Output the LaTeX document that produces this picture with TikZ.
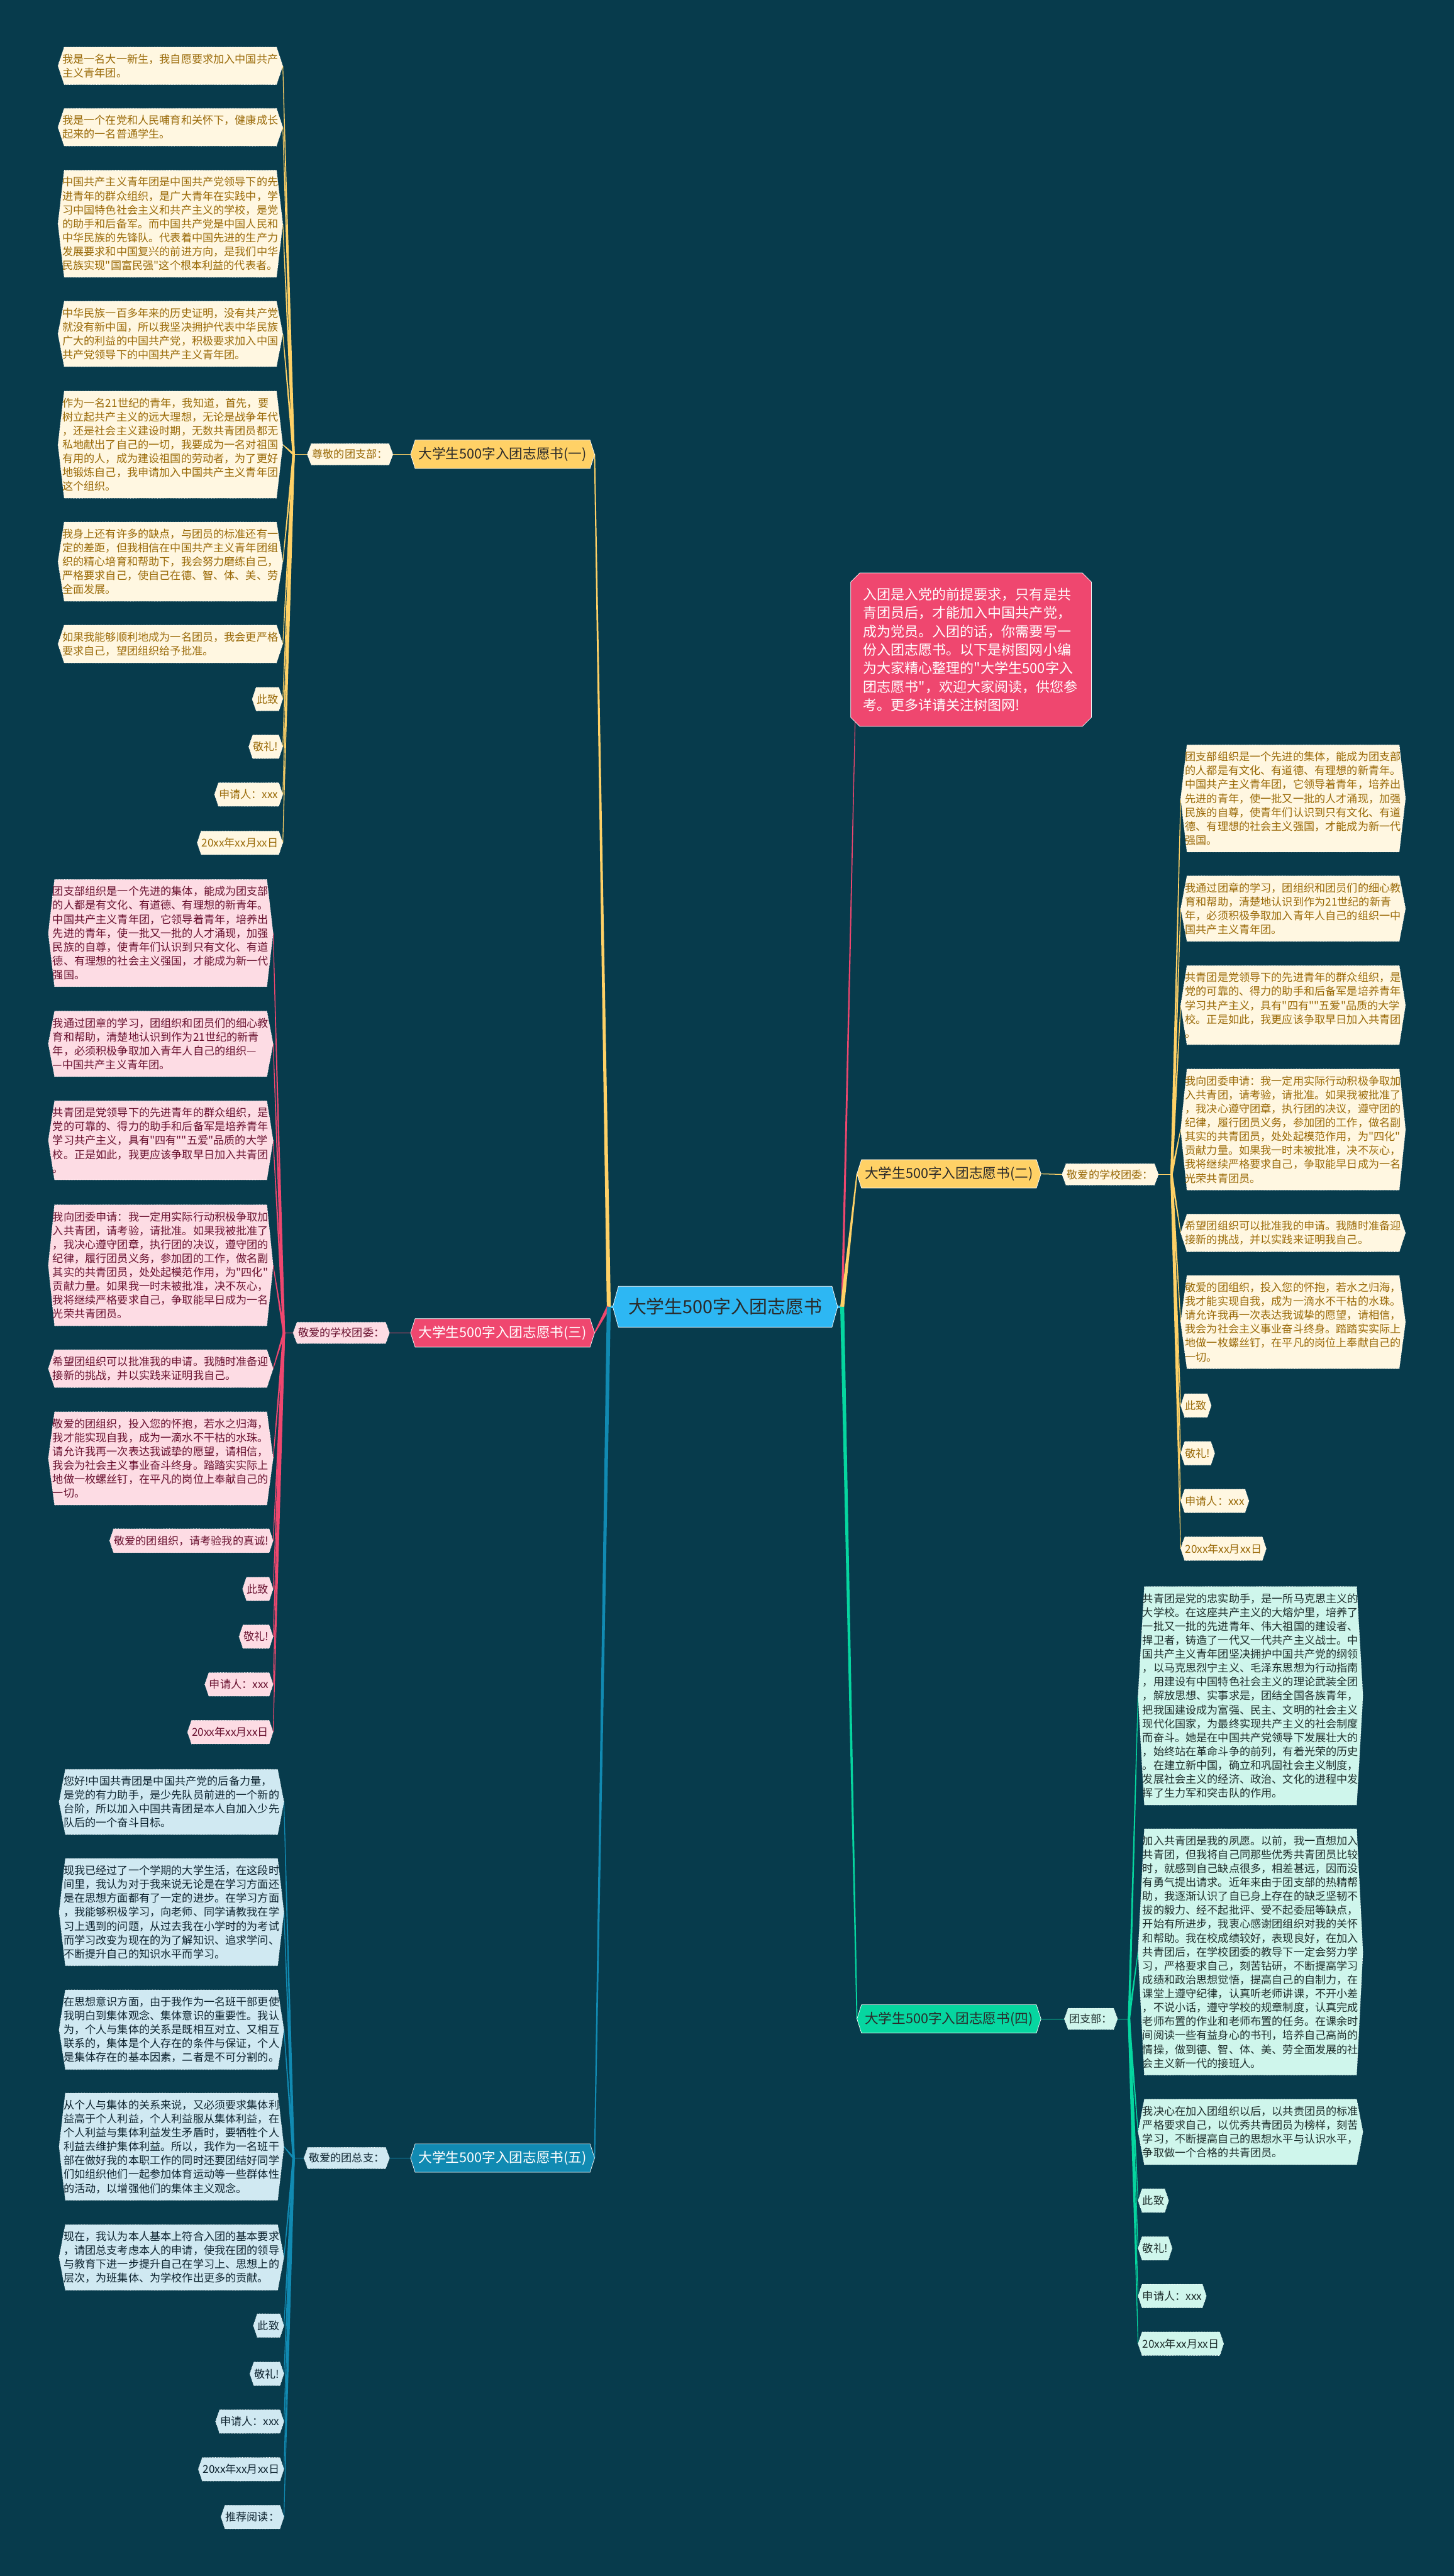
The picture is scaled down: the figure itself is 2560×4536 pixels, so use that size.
\documentclass[tikz,border=0pt]{standalone}
\usepackage{fontspec}
\setmainfont{Noto Sans CJK SC}[Ligatures=TeXOff]
\usetikzlibrary{calc,shapes.misc}
\makeatletter
\newdimen\hexdepth
\hexdepth=5pt
\pgfdeclareshape{hexbox}{
  \inheritsavedanchors[from=rectangle]
  \inheritanchorborder[from=rectangle]
  \inheritanchor[from=rectangle]{center}
  \inheritanchor[from=rectangle]{north}
  \inheritanchor[from=rectangle]{south}
  \inheritanchor[from=rectangle]{east}
  \inheritanchor[from=rectangle]{west}
  \inheritanchor[from=rectangle]{north east}
  \inheritanchor[from=rectangle]{north west}
  \inheritanchor[from=rectangle]{south east}
  \inheritanchor[from=rectangle]{south west}
  \inheritanchor[from=rectangle]{base}
  \inheritanchor[from=rectangle]{mid}
  \backgroundpath{%
    \southwest \pgf@xa=\pgf@x \pgf@ya=\pgf@y
    \northeast \pgf@xb=\pgf@x \pgf@yb=\pgf@y
    \pgf@yc=0.5\pgf@ya \advance\pgf@yc by 0.5\pgf@yb
    \pgf@xc=\pgf@xa \advance\pgf@xc by \hexdepth
    \pgfpathmoveto{\pgfqpoint{\pgf@xa}{\pgf@yc}}%
    \pgfpathlineto{\pgfqpoint{\pgf@xc}{\pgf@yb}}%
    \pgf@xc=\pgf@xb \advance\pgf@xc by -\hexdepth
    \pgfpathlineto{\pgfqpoint{\pgf@xc}{\pgf@yb}}%
    \pgfpathlineto{\pgfqpoint{\pgf@xb}{\pgf@yc}}%
    \pgfpathlineto{\pgfqpoint{\pgf@xc}{\pgf@ya}}%
    \pgf@xc=\pgf@xa \advance\pgf@xc by \hexdepth
    \pgfpathlineto{\pgfqpoint{\pgf@xc}{\pgf@ya}}%
    \pgfpathclose
  }
}
\makeatother
\pgfdeclarelayer{bglayer}
\pgfdeclarelayer{lines}
\pgfsetlayers{bglayer,lines,main}
\definecolor{bgc}{HTML}{073B4C}
\definecolor{cyel}{HTML}{FFD166}
\definecolor{cpink}{HTML}{EF476F}
\definecolor{cgreen}{HTML}{06D6A0}
\definecolor{cblue}{HTML}{118AB2}
\definecolor{ccenter}{HTML}{2DB7F3}
\definecolor{ycream}{HTML}{FFF7E1}
\definecolor{ytext}{HTML}{9A6A08}
\definecolor{pfill}{HTML}{FDDCE4}
\definecolor{ptext}{HTML}{6A1230}
\definecolor{gfill}{HTML}{CFF6EC}
\definecolor{gtext}{HTML}{1E2E2C}
\definecolor{bfill}{HTML}{D0E9F2}
\definecolor{btext}{HTML}{0E2430}
\definecolor{darktext}{HTML}{2A2A2A}
\newcommand{\taper}[5]{\fill[#1] ($(#2)!#4!90:(#3)$) -- ($(#3)!#5!-90:(#2)$) -- ($(#3)!#5!90:(#2)$) -- ($(#2)!#4!-90:(#3)$) -- cycle;}
\tikzset{
  hex depth/.code={\global\hexdepth=#1\relax},
  leafbase/.style={shape=hexbox, outer sep=0pt, inner xsep=4pt, inner ysep=6pt,
    font=\fontsize{9.5}{12.25}\selectfont, align=left, draw=white, densely dotted,
    line width=0.4pt, hex depth=5.5pt},
  short/.style={hex depth=3.5pt},
  long/.style={text width=190pt},
  yleaf/.style={leafbase, fill=ycream, text=ytext},
  pleaf/.style={leafbase, fill=pfill, text=ptext},
  gleaf/.style={leafbase, fill=gfill, text=gtext},
  bleaf/.style={leafbase, fill=bfill, text=btext},
  lab/.style={hex depth=3.5pt, inner xsep=4.5pt, inner ysep=5pt},
  branch/.style={shape=hexbox, outer sep=0pt, hex depth=4pt, minimum width=162pt,
    minimum height=25pt, font=\fontsize{12}{14}\selectfont, draw=white, line width=0.4pt},
}
\begin{document}
\begin{tikzpicture}[x=0.5pt,y=-0.5pt]
\useasboundingbox (0,0) rectangle (2560,4536);
\begin{pgfonlayer}{bglayer}
\fill[bgc] (0,0) rectangle (2560,4536);
\end{pgfonlayer}

% center
\node[shape=hexbox, outer sep=0pt, hex depth=5pt, minimum width=198pt, minimum height=36pt,
  fill=ccenter, draw=white, line width=0.4pt, text=darktext, font=\fontsize{16}{18}\selectfont]
  (root) at (1277,2301) {大学生500字入团志愿书};

% branches
\node[branch, fill=cyel, text=darktext] (br1) at (885,800) {大学生500字入团志愿书(一)};
\node[branch, fill=cpink, text=white] (br3) at (885,2347) {大学生500字入团志愿书(三)};
\node[branch, fill=cblue, text=white] (br5) at (885,3800) {大学生500字入团志愿书(五)};
\node[branch, fill=cyel, text=darktext] (br2) at (1671,2067) {大学生500字入团志愿书(二)};
\node[branch, fill=cgreen, text=darktext] (br4) at (1671,3555) {大学生500字入团志愿书(四)};

% intro
\node[chamfered rectangle, chamfered rectangle xsep=4pt, chamfered rectangle ysep=4pt,
  fill=cpink, draw=white, line width=0.4pt, text=white, text width=190pt, align=left,
  inner xsep=7pt, inner ysep=9pt, font=\fontsize{12.2}{16.3}\selectfont]
  (intro) at (1710,1144) {入团是入党的前提要求，只有是共\\青团员后，才能加入中国共产党，\\成为党员。入团的话，你需要写一\\份入团志愿书。以下是树图网小编\\为大家精心整理的"大学生500字入\\团志愿书"，欢迎大家阅读，供您参\\考。更多详请关注树图网!};

% labels
\node[yleaf, lab, anchor=east] (la) at (692,800) {尊敬的团支部：};
\node[pleaf, lab, anchor=east] (lc) at (686,2347) {敬爱的学校团委：};
\node[bleaf, lab, anchor=east] (le) at (686,3800) {敬爱的团总支：};
\node[yleaf, lab, anchor=west] (lb) at (1870,2068) {敬爱的学校团委：};
\node[gleaf, lab, anchor=west] (ld) at (1874,3555) {团支部：};

\coordinate (Ja) at (517,800);
\coordinate (Jc) at (500,2347);
\coordinate (Je) at (517,3800);
\coordinate (Jb) at (2063,2068);
\coordinate (Jd) at (1988,3555);
\coordinate (CL) at (1072,2301);
\coordinate (CR) at (1483,2301);

% branch 一 leaves
\node[yleaf, long, anchor=east] (a1) at (498,116) {我是一名大一新生，我自愿要求加入中国共产\\主义青年团。};
\node[yleaf, long, anchor=east] (a2) at (498,224) {我是一个在党和人民哺育和关怀下，健康成长\\起来的一名普通学生。};
\node[yleaf, long, anchor=east] (a3) at (498,394) {中国共产主义青年团是中国共产党领导下的先\\进青年的群众组织，是广大青年在实践中，学\\习中国特色社会主义和共产主义的学校，是党\\的助手和后备军。而中国共产党是中国人民和\\中华民族的先锋队。代表着中国先进的生产力\\发展要求和中国复兴的前进方向，是我们中华\\民族实现"国富民强"这个根本利益的代表者。};
\node[yleaf, long, anchor=east] (a4) at (498,588) {中华民族一百多年来的历史证明，没有共产党\\就没有新中国，所以我坚决拥护代表中华民族\\广大的利益的中国共产党，积极要求加入中国\\共产党领导下的中国共产主义青年团。};
\node[yleaf, long, anchor=east] (a5) at (498,783) {作为一名21世纪的青年，我知道，首先，要\\树立起共产主义的远大理想，无论是战争年代\\，还是社会主义建设时期，无数共青团员都无\\私地献出了自己的一切，我要成为一名对祖国\\有用的人，成为建设祖国的劳动者，为了更好\\地锻炼自己，我申请加入中国共产主义青年团\\这个组织。};
\node[yleaf, long, anchor=east] (a6) at (498,989) {我身上还有许多的缺点，与团员的标准还有一\\定的差距，但我相信在中国共产主义青年团组\\织的精心培育和帮助下，我会努力磨练自己，\\严格要求自己，使自己在德、智、体、美、劳\\全面发展。};
\node[yleaf, long, anchor=east] (a7) at (498,1134) {如果我能够顺利地成为一名团员，我会更严格\\要求自己，望团组织给予批准。};
\node[yleaf, short, anchor=east] (a8) at (498,1231) {此致};
\node[yleaf, short, anchor=east] (a9) at (498,1315) {敬礼!};
\node[yleaf, short, anchor=east] (a10) at (498,1399) {申请人：xxx};
\node[yleaf, short, anchor=east] (a11) at (498,1484) {20xx年xx月xx日};

% branch 三 leaves
\node[pleaf, long, anchor=east] (c1) at (481,1643) {团支部组织是一个先进的集体，能成为团支部\\的人都是有文化、有道德、有理想的新青年。\\中国共产主义青年团，它领导着青年，培养出\\先进的青年，使一批又一批的人才涌现，加强\\民族的自尊，使青年们认识到只有文化、有道\\德、有理想的社会主义强国，才能成为新一代\\强国。};
\node[pleaf, long, anchor=east] (c2) at (481,1838) {我通过团章的学习，团组织和团员们的细心教\\育和帮助，清楚地认识到作为21世纪的新青\\年，必须积极争取加入青年人自己的组织—\\—中国共产主义青年团。};
\node[pleaf, long, anchor=east] (c3) at (481,2008) {共青团是党领导下的先进青年的群众组织，是\\党的可靠的、得力的助手和后备军是培养青年\\学习共产主义，具有"四有""五爱"品质的大学\\校。正是如此，我更应该争取早日加入共青团\\。};
\node[pleaf, long, anchor=east] (c4) at (481,2228) {我向团委申请：我一定用实际行动积极争取加\\入共青团，请考验，请批准。如果我被批准了\\，我决心遵守团章，执行团的决议，遵守团的\\纪律，履行团员义务，参加团的工作，做名副\\其实的共青团员，处处起模范作用，为"四化"\\贡献力量。如果我一时未被批准，决不灰心，\\我将继续严格要求自己，争取能早日成为一名\\光荣共青团员。};
\node[pleaf, long, anchor=east] (c5) at (481,2410) {希望团组织可以批准我的申请。我随时准备迎\\接新的挑战，并以实践来证明我自己。};
\node[pleaf, long, anchor=east] (c6) at (481,2568) {敬爱的团组织，投入您的怀抱，若水之归海，\\我才能实现自我，成为一滴水不干枯的水珠。\\请允许我再一次表达我诚挚的愿望，请相信，\\我会为社会主义事业奋斗终身。踏踏实实际上\\地做一枚螺丝钉，在平凡的岗位上奉献自己的\\一切。};
\node[pleaf, short, anchor=east] (c7) at (481,2713) {敬爱的团组织，请考验我的真诚!};
\node[pleaf, short, anchor=east] (c8) at (481,2798) {此致};
\node[pleaf, short, anchor=east] (c9) at (481,2882) {敬礼!};
\node[pleaf, short, anchor=east] (c10) at (481,2966) {申请人：xxx};
\node[pleaf, short, anchor=east] (c11) at (481,3050) {20xx年xx月xx日};

% branch 五 leaves
\node[bleaf, long, anchor=east] (e1) at (500,3173) {您好!中国共青团是中国共产党的后备力量，\\是党的有力助手，是少先队员前进的一个新的\\台阶，所以加入中国共青团是本人自加入少先\\队后的一个奋斗目标。};
\node[bleaf, long, anchor=east] (e2) at (500,3367) {现我已经过了一个学期的大学生活，在这段时\\间里，我认为对于我来说无论是在学习方面还\\是在思想方面都有了一定的进步。在学习方面\\，我能够积极学习，向老师、同学请教我在学\\习上遇到的问题，从过去我在小学时的为考试\\而学习改变为现在的为了解知识、追求学问、\\不断提升自己的知识水平而学习。};
\node[bleaf, long, anchor=east] (e3) at (500,3574) {在思想意识方面，由于我作为一名班干部更使\\我明白到集体观念、集体意识的重要性。我认\\为，个人与集体的关系是既相互对立、又相互\\联系的，集体是个人存在的条件与保证，个人\\是集体存在的基本因素，二者是不可分割的。};
\node[bleaf, long, anchor=east] (e4) at (500,3780) {从个人与集体的关系来说，又必须要求集体利\\益高于个人利益，个人利益服从集体利益，在\\个人利益与集体利益发生矛盾时，要牺牲个人\\利益去维护集体利益。所以，我作为一名班干\\部在做好我的本职工作的同时还要团结好同学\\们如组织他们一起参加体育运动等一些群体性\\的活动，以增强他们的集体主义观念。};
\node[bleaf, long, anchor=east] (e5) at (500,3975) {现在，我认为本人基本上符合入团的基本要求\\，请团总支考虑本人的申请，使我在团的领导\\与教育下进一步提升自己在学习上、思想上的\\层次，为班集体、为学校作出更多的贡献。};
\node[bleaf, short, anchor=east] (e6) at (500,4095) {此致};
\node[bleaf, short, anchor=east] (e7) at (500,4180) {敬礼!};
\node[bleaf, short, anchor=east] (e8) at (500,4264) {申请人：xxx};
\node[bleaf, short, anchor=east] (e9) at (500,4348) {20xx年xx月xx日};
\node[bleaf, short, anchor=east] (e10) at (500,4432) {推荐阅读：};

% branch 二 leaves
\node[yleaf, long, anchor=west] (b1) at (2079,1406) {团支部组织是一个先进的集体，能成为团支部\\的人都是有文化、有道德、有理想的新青年。\\中国共产主义青年团，它领导着青年，培养出\\先进的青年，使一批又一批的人才涌现，加强\\民族的自尊，使青年们认识到只有文化、有道\\德、有理想的社会主义强国，才能成为新一代\\强国。};
\node[yleaf, long, anchor=west] (b2) at (2079,1600) {我通过团章的学习，团组织和团员们的细心教\\育和帮助，清楚地认识到作为21世纪的新青\\年，必须积极争取加入青年人自己的组织一中\\国共产主义青年团。};
\node[yleaf, long, anchor=west] (b3) at (2079,1770) {共青团是党领导下的先进青年的群众组织，是\\党的可靠的、得力的助手和后备军是培养青年\\学习共产主义，具有"四有""五爱"品质的大学\\校。正是如此，我更应该争取早日加入共青团\\。};
\node[yleaf, long, anchor=west] (b4) at (2079,1989) {我向团委申请：我一定用实际行动积极争取加\\入共青团，请考验，请批准。如果我被批准了\\，我决心遵守团章，执行团的决议，遵守团的\\纪律，履行团员义务，参加团的工作，做名副\\其实的共青团员，处处起模范作用，为"四化"\\贡献力量。如果我一时未被批准，决不灰心，\\我将继续严格要求自己，争取能早日成为一名\\光荣共青团员。};
\node[yleaf, long, anchor=west] (b5) at (2079,2171) {希望团组织可以批准我的申请。我随时准备迎\\接新的挑战，并以实践来证明我自己。};
\node[yleaf, long, anchor=west] (b6) at (2079,2328) {敬爱的团组织，投入您的怀抱，若水之归海，\\我才能实现自我，成为一滴水不干枯的水珠。\\请允许我再一次表达我诚挚的愿望，请相信，\\我会为社会主义事业奋斗终身。踏踏实实际上\\地做一枚螺丝钉，在平凡的岗位上奉献自己的\\一切。};
\node[yleaf, short, anchor=west] (b7) at (2079,2475) {此致};
\node[yleaf, short, anchor=west] (b8) at (2079,2559) {敬礼!};
\node[yleaf, short, anchor=west] (b9) at (2079,2643) {申请人：xxx};
\node[yleaf, short, anchor=west] (b10) at (2079,2727) {20xx年xx月xx日};

% branch 四 leaves
\node[gleaf, long, anchor=west] (d1) at (2004,2986) {共青团是党的忠实助手，是一所马克思主义的\\大学校。在这座共产主义的大熔炉里，培养了\\一批又一批的先进青年、伟大祖国的建设者、\\捍卫者，铸造了一代又一代共产主义战士。中\\国共产主义青年团坚决拥护中国共产党的纲领\\，以马克思烈宁主义、毛泽东思想为行动指南\\，用建设有中国特色社会主义的理论武装全团\\，解放思想、实事求是，团结全国各族青年，\\把我国建设成为富强、民主、文明的社会主义\\现代化国家，为最终实现共产主义的社会制度\\而奋斗。她是在中国共产党领导下发展壮大的\\，始终站在革命斗争的前列，有着光荣的历史\\。在建立新中国，确立和巩固社会主义制度，\\发展社会主义的经济、政治、文化的进程中发\\挥了生力军和突击队的作用。};
\node[gleaf, long, anchor=west] (d2) at (2004,3437) {加入共青团是我的夙愿。以前，我一直想加入\\共青团，但我将自己同那些优秀共青团员比较\\时，就感到自己缺点很多，相差甚远，因而没\\有勇气提出请求。近年来由于团支部的热精帮\\助，我逐渐认识了自已身上存在的缺乏坚韧不\\拔的毅力、经不起批评、受不起委屈等缺点，\\开始有所进步，我衷心感谢团组织对我的关怀\\和帮助。我在校成绩较好，表现良好，在加入\\共青团后，在学校团委的教导下一定会努力学\\习，严格要求自己，刻苦钻研，不断提高学习\\成绩和政治思想觉悟，提高自己的自制力，在\\课堂上遵守纪律，认真听老师讲课，不开小差\\，不说小话，遵守学校的规章制度，认真完成\\老师布置的作业和老师布置的任务。在课余时\\间阅读一些有益身心的书刊，培养自己高尚的\\情操，做到德、智、体、美、劳全面发展的社\\会主义新一代的接班人。};
\node[gleaf, long, anchor=west] (d3) at (2004,3754) {我决心在加入团组织以后，以共责团员的标准\\严格要求自己，以优秀共青团员为榜样，刻苦\\学习，不断提高自己的思想水平与认识水平，\\争取做一个合格的共青团员。};
\node[gleaf, short, anchor=west] (d4) at (2004,3875) {此致};
\node[gleaf, short, anchor=west] (d5) at (2004,3959) {敬礼!};
\node[gleaf, short, anchor=west] (d6) at (2004,4043) {申请人：xxx};
\node[gleaf, short, anchor=west] (d7) at (2004,4127) {20xx年xx月xx日};

% connectors
\begin{pgfonlayer}{lines}
\draw[ccenter, line width=2pt] (root.west) -- (CL);
\draw[ccenter, line width=2pt] (root.east) -- (CR);
\taper{cyel}{CL}{br1.east}{1.75pt}{0.5pt}
\taper{cpink}{CL}{br3.east}{1.75pt}{0.5pt}
\taper{cblue}{CL}{br5.east}{1.75pt}{0.5pt}
\taper{cpink}{CR}{intro.south west}{1pt}{0.3pt}
\taper{cyel}{CR}{br2.west}{1.75pt}{0.5pt}
\taper{cgreen}{CR}{br4.west}{1.75pt}{0.5pt}
\draw[cyel, line width=0.7pt] (br1.west) -- (la.east);
\draw[cyel, line width=0.7pt] (la.west) -- (Ja);
\draw[cpink, line width=0.7pt] (br3.west) -- (lc.east);
\draw[cpink, line width=0.7pt] (lc.west) -- (Jc);
\draw[cblue, line width=0.7pt] (br5.west) -- (le.east);
\draw[cblue, line width=0.7pt] (le.west) -- (Je);
\draw[cyel, line width=0.7pt] (br2.east) -- (lb.west);
\draw[cyel, line width=0.7pt] (lb.east) -- (Jb);
\draw[cgreen, line width=0.7pt] (br4.east) -- (ld.west);
\draw[cgreen, line width=0.7pt] (ld.east) -- (Jd);
\foreach \n in {a1,a2,a3,a4,a5,a6,a7,a8,a9,a10,a11} {\taper{cyel}{Ja}{\n.east}{1pt}{0.3pt}}
\foreach \n in {c1,c2,c3,c4,c5,c6,c7,c8,c9,c10,c11} {\taper{cpink}{Jc}{\n.east}{1pt}{0.3pt}}
\foreach \n in {e1,e2,e3,e4,e5,e6,e7,e8,e9,e10} {\taper{cblue}{Je}{\n.east}{1pt}{0.3pt}}
\foreach \n in {b1,b2,b3,b4,b5,b6,b7,b8,b9,b10} {\taper{cyel}{Jb}{\n.west}{1pt}{0.3pt}}
\foreach \n in {d1,d2,d3,d4,d5,d6,d7} {\taper{cgreen}{Jd}{\n.west}{1pt}{0.3pt}}
\end{pgfonlayer}
\end{tikzpicture}
\end{document}
